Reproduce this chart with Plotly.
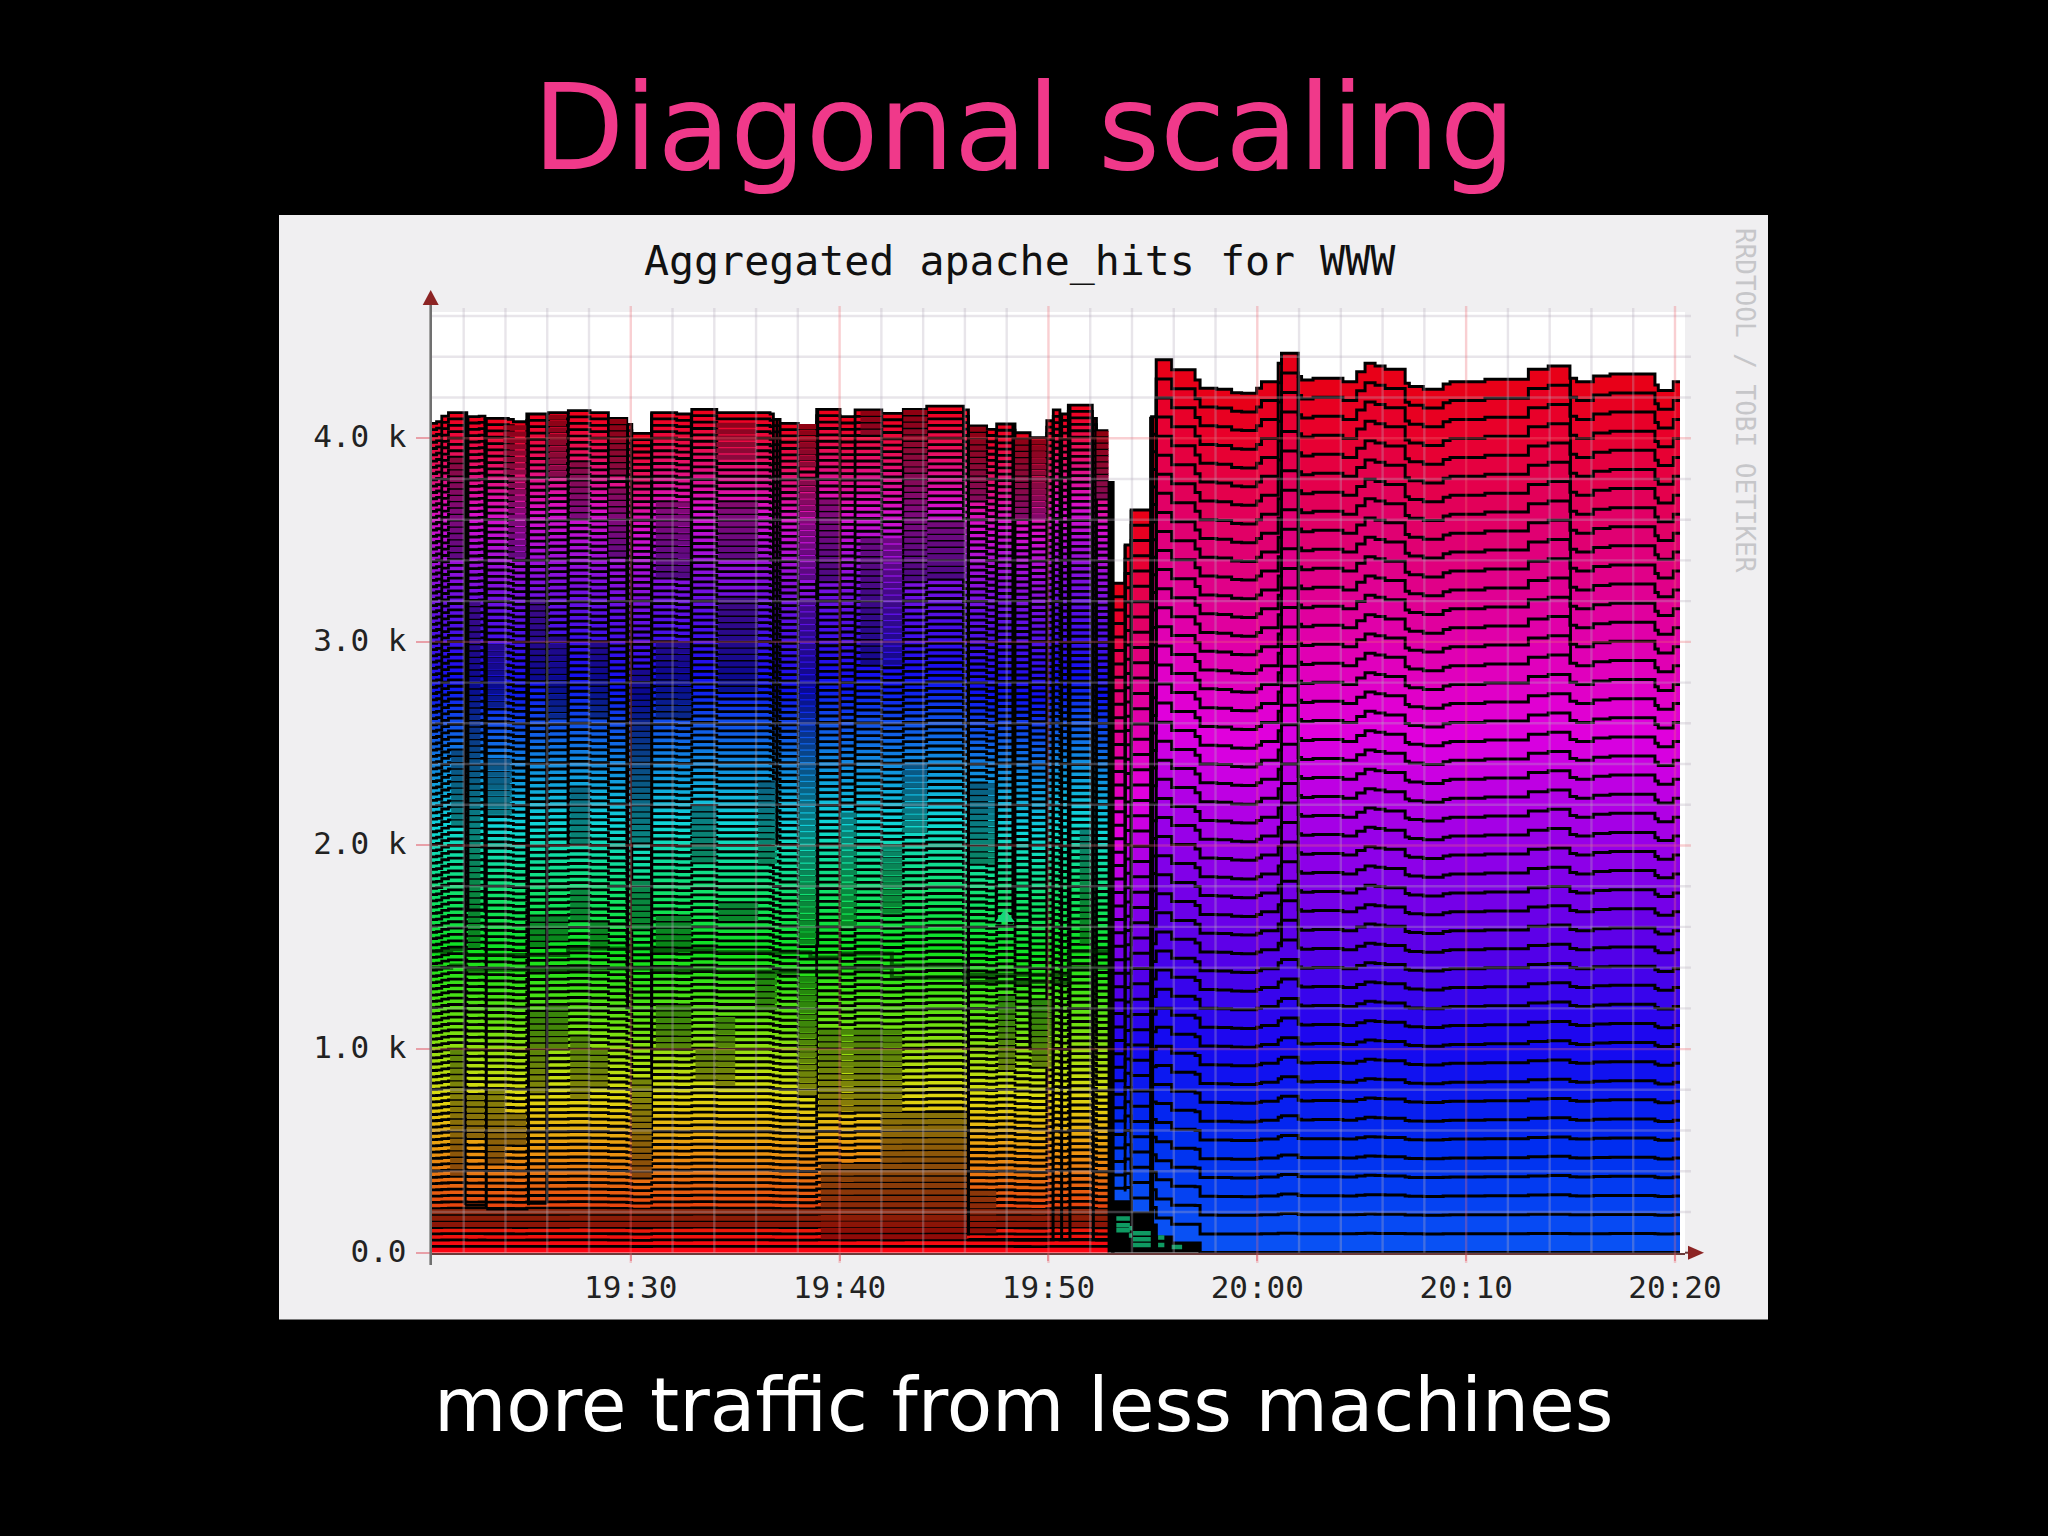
import plotly.graph_objects as go

# Time is minutes after 19:00. Values are Apache hits.
before_minutes = [20.42, 20.7, 20.95, 21.27, 22.15, 22.74, 23.02, 24.14, 24.38, 25.02, 26.06, 27.01,
                  28.05, 28.93, 29.81, 30.05, 31.0, 32.2, 32.92, 34.12, 36.67, 36.83, 37.15, 38.02,
                  38.9, 40.02, 40.74, 42.02, 43.05, 44.17, 45.93, 46.17, 47.04, 47.52, 48.4, 49.12,
                  49.92, 50.23, 50.55, 50.95, 52.1, 52.3, 52.87]
before_total = [4073, 4081, 4109, 4126, 4106, 4109, 4098, 4093, 4081, 4119, 4126, 4136,
                4126, 4098, 4068, 4024, 4126, 4119, 4142, 4126, 4119, 4093, 4073, 4049,
                4142, 4106, 4139, 4122, 4142, 4158, 4139, 4060, 4044, 4070, 4027, 4003,
                4086, 4139, 4119, 4163, 4098, 4037, 4037]

after_minutes = [53.0, 53.67, 53.96, 54.94, 55.16, 55.9, 57.02, 57.26, 58.06, 58.77, 59.25, 59.97,
                 60.2, 61.0, 61.16, 61.96, 62.12, 62.67, 64.1, 64.76, 65.16, 65.64, 66.12, 67.08,
                 67.28, 67.95, 68.9, 69.23, 70.9, 72.98, 73.93, 74.97, 75.29, 76.09, 76.89, 79.04,
                 79.2, 79.92, 80.24]
after_total = [3288, 3476, 3648, 4106, 4385, 4336, 4286, 4246, 4241, 4224, 4221, 4246,
               4278, 4368, 4417, 4303, 4286, 4295, 4278, 4327, 4368, 4355, 4339, 4270,
               4254, 4241, 4267, 4278, 4290, 4339, 4355, 4295, 4278, 4306, 4316, 4262,
               4234, 4278, 4278]
after_retiring = [250, 250, 194, 136, 77, 47, 47, 0, 0, 0, 0, 0,
                  0, 0, 0, 0, 0, 0, 0, 0, 0, 0, 0, 0,
                  0, 0, 0, 0, 0, 0, 0, 0, 0, 0, 0, 0,
                  0, 0, 0]

before_host_count = 132
after_host_count = 46

# Colours against the share of the stack height
before_colour_levels = [0.0, 0.03, 0.07, 0.13, 0.19, 0.27, 0.36, 0.44, 0.51, 0.59, 0.68, 0.78, 0.88, 0.95, 1.0]
before_colours = [(255, 0, 20), (232, 30, 12), (232, 90, 16), (236, 160, 16), (222, 220, 16), (110, 225, 16),
                  (16, 225, 30), (16, 225, 120), (16, 215, 215), (16, 130, 225), (16, 16, 240), (110, 16, 225),
                  (215, 16, 205), (232, 16, 90), (240, 0, 24)]
after_colour_levels = [0.0, 0.12, 0.24, 0.35, 0.47, 0.59, 0.71, 0.82, 0.93, 1.0]
after_colours = [(10, 85, 245), (0, 45, 240), (24, 8, 240), (90, 0, 232), (154, 0, 232), (224, 0, 224),
                 (224, 0, 168), (224, 0, 112), (232, 0, 48), (232, 0, 20)]

# Dimmed blocks in the older stripes
patch_start = [21.35, 22.15, 23.02, 23.98, 25.1, 25.1, 26.0, 26.0, 27.1, 27.1, 28.05, 28.05, 30.05, 30.05,
               31.2, 31.2, 33.1, 34.2, 34.05, 35.95, 38.0, 21.4, 22.2, 23.0, 23.0, 25.1, 26.0, 28.05, 30.05,
               31.2, 34.2, 38.0, 26.0, 23.9, 29.0, 34.1, 38.0, 41.0, 20.42, 39.0, 39.1, 42.0, 46.2, 41.0, 43.1, 47.6, 49.2,
               46.2, 48.4, 52.3, 43.05, 27.1, 31.2, 38.0, 21.35, 39.0, 34.2, 44.2,
               27.1, 32.92, 36.1, 40.0, 42.0, 43.0, 46.2, 51.5, 30.05, 28.93, 24.14]
patch_end = [22.07, 22.99, 23.98, 25.0, 26.0, 26.0, 27.0, 27.0, 28.05, 28.05, 28.9, 28.9, 31.0, 31.0,
             32.9, 32.9, 34.05, 36.1, 35.0, 37.0, 38.9, 22.1, 22.8, 24.0, 24.3, 25.9, 27.0, 28.9, 31.0,
             32.9, 36.1, 38.9, 26.9, 25.0, 29.8, 36.0, 38.9, 42.0, 52.87, 43.0, 46.1, 46.1, 47.5, 43.0, 44.2, 48.4, 50.2,
             47.0, 49.9, 52.87, 44.2, 28.05, 32.9, 38.9, 22.07, 40.0, 36.1, 46.1,
             28.05, 34.1, 37.0, 40.8, 43.0, 44.2, 47.5, 52.0, 31.0, 29.8, 25.0]
patch_low = [370, 550, 440, 520, 766, 1500, 1011, 1520, 766, 1617, 815, 1500, 357, 1600, 995, 1500, 848, 1617, 815, 1200,
             766, 2090, 1500, 2680, 2140, 2800, 2630, 2630, 2390, 2620, 2750, 1500, 3811, 3811, 3811, 3877, 3844, 4024,
             111, 700, 65, 440, 100, 2900, 3300, 900, 900,
             3700, 3600, 3700, 3850, 3600, 3300, 3300, 3400, 3300, 3400, 3300,
             2000, 1900, 1900, 1585, 1670, 2050, 1900, 1500, 2000, 3400, 3400]
patch_high = [1010, 780, 815, 684, 1175, 1666, 1208, 1666, 1060, 1780, 1011, 1640, 848, 1830, 1208, 1666, 995, 1732, 1175, 1390,
              1355, 2470, 3200, 2990, 2420, 3206, 3040, 2990, 2880, 2990, 3206, 3206, 4122, 4057, 4090, 4090, 4090, 4139,
              217, 1100, 440, 700, 300, 3500, 3900, 1250, 1250,
              4060, 4000, 4030, 4140, 3900, 3700, 3800, 3900, 3700, 3700, 3600,
              2300, 2200, 2300, 2160, 2000, 2400, 2322, 2077, 2390, 3750, 3811]

# Vertical outlines where hosts drop out of the older stack
before_drop_minutes = [22.07, 22.2, 23.02, 23.08, 25.1, 25.98, 27.0, 29.85, 31.0, 32.9, 37.0, 38.95, 46.17, 47.5, 48.3, 49.12, 50.22, 50.63, 51.03, 52.15]
before_drop_floor = [233, 1683, 1683, 215, 233, 243, 2000, 1200, 950, 2800, 2000, 1500, 85, 1620, 1620, 1000, 72, 72, 72, 72]
after_drop_minutes = [53.67, 53.96, 61.16, 61.96, 75.0]
after_drop_floor = [300, 190, 1500, 1500, 2900]
box_start = [22.07, 23.08, 25.1, 46.17, 22.2, 47.5]
box_end = [23.08, 25.1, 25.98, 52.87, 23.02, 47.75]
box_hits = [233, 215, 243, 65, 1683, 1620]
box2_start = [48.05]
box2_end = [48.3]
box2_hits = [1620]
seam_minutes = [20.42, 21.4, 22.1, 25.1, 27.0, 30.0, 31.0, 34.0, 38.6, 40.0, 42.5, 44.0, 46.0, 49.0, 51.0, 52.87]
seam_upper = [1480, 1490, 1462, 1462, 1494, 1494, 1485, 1475, 1450, 1470, 1410, 1410, 1365, 1365, 1480, 1480]
seam_lower = [1400, 1410, 1390, 1390, 1396, 1396, 1390, 1380, 1380, 1400, 1350, 1350, 1330, 1330, 1400, 1400]
retiring_start = [53.25, 53.25, 53.25, 53.85, 53.85, 54.05, 54.05, 54.05, 55.25, 55.25, 55.9]
retiring_end = [53.9, 53.9, 53.9, 54.0, 54.0, 54.9, 54.9, 54.9, 55.55, 55.55, 56.4]
retiring_hits = [168, 135, 110, 120, 85, 96, 66, 38, 75, 38, 28]

# Axis content
hour_tick_minutes = [30, 40, 50, 60, 70, 80]
hour_tick_labels = ["19:30", "19:40", "19:50", "20:00", "20:10", "20:20"]
minor_x_minutes = [22, 24, 26, 28, 32, 34, 36, 38, 42, 44, 46, 48, 52, 54, 56, 58, 62, 64, 66, 68, 72, 74, 76, 78]
hit_tick_values = [0, 1000, 2000, 3000, 4000]
hit_tick_labels = ["0.0", "1.0 k", "2.0 k", "3.0 k", "4.0 k"]
minor_y_hits = [200, 400, 600, 800, 1200, 1400, 1600, 1800, 2200, 2400, 2600, 2800, 3200, 3400, 3600, 3800, 4200, 4400, 4600]

W, H = 2048, 1536
PX = dict(left=430.7, right=1685.0, top=312.0, bottom=1252.7)
MONO = "DejaVu Sans Mono"


def colour_at(levels, colours, f):
    for i in range(len(levels) - 1):
        if f <= levels[i + 1]:
            t = (f - levels[i]) / (levels[i + 1] - levels[i])
            return tuple(colours[i][c] + t * (colours[i + 1][c] - colours[i][c]) for c in range(3))
    return colours[-1]


def css(c, k=1.0):
    return "rgb(%d,%d,%d)" % (c[0] * k, c[1] * k, c[2] * k)


def total_at(m):
    value = before_total[0]
    for a, b in zip(before_minutes, before_total):
        if a <= m:
            value = b
    return value


def px(x, y):
    return "%.5f,%.5f" % (x / W, 1 - y / H)


fig = go.Figure()

# older hosts
for k in range(before_host_count):
    f = (k + 0.5) / before_host_count
    fig.add_trace(go.Scatter(
        x=before_minutes, y=[t / before_host_count for t in before_total],
        stackgroup="before", mode="lines", line=dict(shape="hv", color="#000", width=2.8),
        fillcolor=css(colour_at(before_colour_levels, before_colours, f)), hoverinfo="skip", showlegend=False))

# newer hosts above the retiring ones
fig.add_trace(go.Scatter(x=after_minutes, y=after_retiring, stackgroup="after", mode="lines",
                         line=dict(shape="hv", color="#000", width=3.2), fillcolor="#000",
                         hoverinfo="skip", showlegend=False))
for k in range(after_host_count):
    f = (k + 0.5) / after_host_count
    fig.add_trace(go.Scatter(
        x=after_minutes, y=[(t - r) / after_host_count for t, r in zip(after_total, after_retiring)],
        stackgroup="after", mode="lines", line=dict(shape="hv", color="#000", width=3.0),
        fillcolor=css(colour_at(after_colour_levels, after_colours, f)), hoverinfo="skip", showlegend=False))

# dim blocks, band by band
for k in range(before_host_count):
    f = (k + 0.5) / before_host_count
    xs, ys = [], []
    for a, b, lo, hi in zip(patch_start, patch_end, patch_low, patch_high):
        level = f * total_at(a)
        if lo <= level <= hi:
            xs += [a, b, None]
            ys += [level, level, None]
    if xs:
        fig.add_trace(go.Scatter(x=xs, y=ys, mode="lines",
                                 line=dict(color=css(colour_at(before_colour_levels, before_colours, f), 0.6), width=5.0),
                                 hoverinfo="skip", showlegend=False))

# outlines
xs, ys = [], []
for m, lo in zip(before_drop_minutes, before_drop_floor):
    xs += [m, m, None]
    ys += [lo, total_at(m), None]
for a, b, v in zip(box_start + box2_start, box_end + box2_end, box_hits + box2_hits):
    xs += [a, b, None]
    ys += [v, v, None]
fig.add_trace(go.Scatter(x=xs, y=ys, mode="lines", line=dict(color="#000", width=3.0), hoverinfo="skip", showlegend=False))

xs, ys = [], []
for m, lo in zip(after_drop_minutes, after_drop_floor):
    v = after_total[0]
    for a, b in zip(after_minutes, after_total):
        if a <= m:
            v = b
    xs += [m, m, None]
    ys += [lo, v, None]
fig.add_trace(go.Scatter(x=xs, y=ys, mode="lines", line=dict(color="#000", width=2.8), hoverinfo="skip", showlegend=False))

# thick seams at the hand-over and the spur
fig.add_trace(go.Scatter(x=[after_minutes[3], after_minutes[3]], y=[after_retiring[3], after_total[3]],
                         mode="lines", line=dict(color="#000", width=5), hoverinfo="skip", showlegend=False))
fig.add_trace(go.Scatter(x=[53.0, 53.0], y=[0, 3790], mode="lines", line=dict(color="#000", width=7), hoverinfo="skip", showlegend=False))

for series in (seam_upper, seam_lower):
    fig.add_trace(go.Scatter(x=seam_minutes, y=series, mode="lines", line=dict(shape="hv", color="rgba(0,30,0,0.65)", width=4),
                             hoverinfo="skip", showlegend=False))

xs, ys = [], []
for a, b, v in zip(retiring_start, retiring_end, retiring_hits):
    xs += [a, b, None]
    ys += [v, v, None]
fig.add_trace(go.Scatter(x=xs, y=ys, mode="lines", line=dict(color="#0f9a62", width=4.5), hoverinfo="skip", showlegend=False))

# the little peak
fig.add_trace(go.Scatter(x=[47.92], y=[1645], mode="markers", marker=dict(symbol="triangle-up", size=17, color="#14d878"),
                         hoverinfo="skip", showlegend=False))

GRID_MINOR = "rgba(185,175,190,0.32)"
GRID_MAJOR = "rgba(235,105,115,0.32)"
ARROW = "#8c2424"
shapes = [dict(type="rect", xref="paper", yref="paper", x0=279 / W, x1=1768 / W, y0=1 - 1319.5 / H, y1=1 - 215 / H,
               fillcolor="#F0EFF1", line_width=0, layer="below"),
          dict(type="rect", xref="paper", yref="paper", x0=PX["left"] / W, x1=PX["right"] / W, y0=1 - PX["bottom"] / H, y1=1 - PX["top"] / H,
               fillcolor="#FFFFFF", line_width=0, layer="below")]
for m in minor_x_minutes:
    shapes.append(dict(type="line", x0=m, x1=m, yref="paper", y0=1 - PX["bottom"] / H, y1=1 - 308 / H, line=dict(color=GRID_MINOR, width=2.4), layer="above"))
for v in minor_y_hits:
    shapes.append(dict(type="line", xref="paper", x0=PX["left"] / W, x1=(PX["right"] + 6) / W, y0=v, y1=v,
                       line=dict(color=GRID_MINOR, width=2.4), layer="above"))
for m in hour_tick_minutes:
    shapes.append(dict(type="line", x0=m, x1=m, yref="paper", y0=1 - 1263 / H, y1=1 - 306 / H, line=dict(color=GRID_MAJOR, width=2.4), layer="above"))
for v in hit_tick_values[1:]:
    shapes.append(dict(type="line", xref="paper", x0=PX["left"] / W, x1=(PX["right"] + 6) / W, y0=v, y1=v,
                       line=dict(color=GRID_MAJOR, width=2.4), layer="above"))
# y axis spine runs past the plot to meet the arrow, then the two arrow heads
shapes.append(dict(type="line", xref="paper", yref="paper", x0=PX["left"] / W, x1=PX["left"] / W, y0=1 - 1265 / H, y1=1 - 300 / H,
                   line=dict(color="#707070", width=2.6), layer="above"))
shapes.append(dict(type="line", xref="paper", yref="paper", x0=PX["right"] / W, x1=1692 / W, y0=1 - PX["bottom"] / H, y1=1 - PX["bottom"] / H,
                   line=dict(color="#6a3a3a", width=2), layer="above"))
shapes.append(dict(type="path", xref="paper", yref="paper", layer="above", fillcolor=ARROW, line_width=0,
                   path="M %s L %s L %s Z" % (px(PX["left"] - 8, 305), px(PX["left"], 290), px(PX["left"] + 8, 305))))
shapes.append(dict(type="path", xref="paper", yref="paper", layer="above", fillcolor=ARROW, line_width=0,
                   path="M %s L %s L %s Z" % (px(1688, PX["bottom"] - 7), px(1704, PX["bottom"]), px(1688, PX["bottom"] + 7))))

annotations = [
    dict(text="Aggregated apache_hits for WWW", xref="paper", yref="paper", x=1020 / W, y=1 - 260 / H, showarrow=False,
         font=dict(family=MONO, size=41.6, color="#111"), xanchor="center", yanchor="middle"),
    dict(text="RRDTOOL / TOBI OETIKER", xref="paper", yref="paper", x=1745 / W, y=1 - 400 / H, showarrow=False, textangle=90,
         font=dict(family=MONO, size=26, color="#C6C6C9"), xanchor="center", yanchor="middle"),
    dict(text="more traffic from less machines", xref="paper", yref="paper", x=1023 / W, y=1 - 1405 / H, showarrow=False,
         font=dict(family="DejaVu Sans", size=74.3, color="#FFFFFF"), xanchor="center", yanchor="middle"),
]

fig.update_layout(
    width=W, height=H, margin=dict(l=0, r=0, t=0, b=0), paper_bgcolor="#000", plot_bgcolor="rgba(0,0,0,0)",
    showlegend=False, shapes=shapes, annotations=annotations,
    title=dict(text="Diagonal scaling", x=1024 / W, xanchor="center", y=1 - 127 / H, yanchor="middle", yref="container",
               font=dict(family="DejaVu Sans", size=119, color="#F0398A")),
    xaxis=dict(domain=[PX["left"] / W, PX["right"] / W], range=[20.42, 80.48], showgrid=False, zeroline=False, automargin=False,
               tickmode="array", tickvals=hour_tick_minutes, ticktext=hour_tick_labels, ticks="outside", ticklen=6, tickwidth=2,
               tickcolor="#E8A0A8", tickfont=dict(family=MONO, size=31, color="#222"), ticklabelstandoff=0,
               showline=True, linecolor="#6a3a3a", linewidth=2),
    yaxis=dict(domain=[1 - PX["bottom"] / H, 1 - PX["top"] / H], range=[0, 4620], showgrid=False, zeroline=False, automargin=False,
               tickmode="array", tickvals=hit_tick_values, ticktext=hit_tick_labels, ticks="outside", ticklen=14, tickwidth=2,
               tickcolor="#E8A0A8", tickfont=dict(family=MONO, size=31, color="#222"), ticklabelstandoff=3, ticklabelshift=-2, showline=False),
)

fig.write_html("out.html", config={"displayModeBar": False},
               post_script="document.documentElement.style.background='#000';document.body.style.margin='0';document.body.style.background='#000';")
